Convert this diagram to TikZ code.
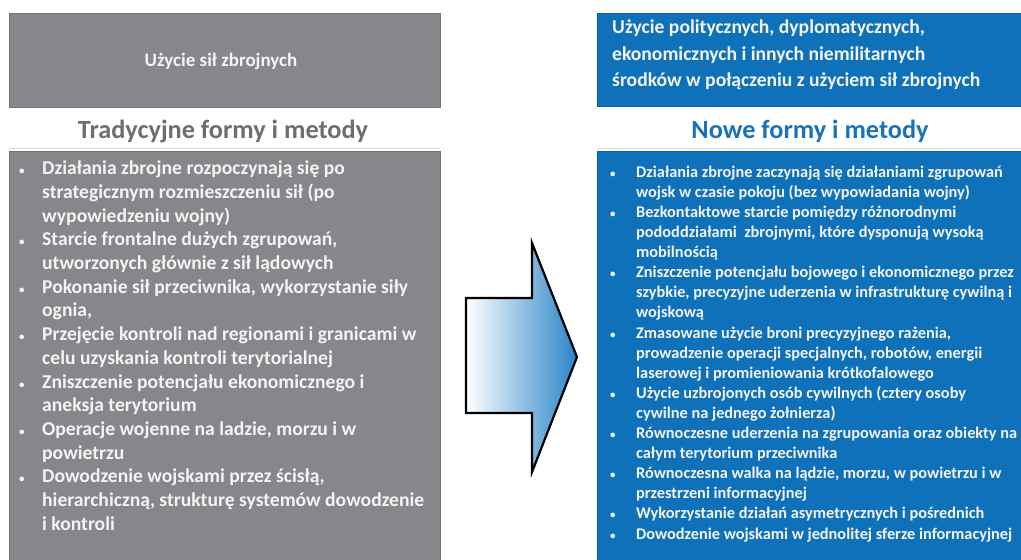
\documentclass[tikz,border=0pt]{standalone}
\usepackage{fontspec}
\setmainfont{Carlito}
\definecolor{boxgray}{HTML}{85878A}
\definecolor{boxblue}{HTML}{1071BB}
\definecolor{titlegray}{HTML}{6D6E71}
\definecolor{titleblue}{HTML}{1A72B9}
\definecolor{arrowblue}{HTML}{2A84C8}
\definecolor{txt}{HTML}{F4F4F4}
\newcommand\smallbul{{\fontsize{11}{11}\selectfont •}}
\newcommand\lbul{\makebox[23pt][l]{\smallbul}}
\newcommand\lind{\hspace*{23pt}}
\newcommand\rbul{\makebox[26pt][l]{\smallbul}}
\newcommand\rind{\hspace*{26pt}}
\tikzset{
  panel/.style={anchor=north west, inner sep=0pt, draw=#1!85!black, line width=0.6pt, fill=#1},
  listtext/.style={anchor=north west, inner sep=0pt, align=left, text=txt, font=\bfseries},
  title/.style={anchor=base, inner sep=0pt, font=\bfseries\fontsize{26.3}{30}\selectfont},
  sepline/.style={draw=black!15, line width=0.8pt}
}
\begin{document}
\begin{tikzpicture}[x=1pt,y=-1pt]
\useasboundingbox (0,0) rectangle (1021,560);
\fill[white] (0,0) rectangle (1021,560);

% top boxes
\node[panel=boxgray, minimum width=431pt, minimum height=94pt] (lt) at (9,13) {};
\node[anchor=base, inner sep=0pt, text=txt, font=\bfseries\fontsize{19}{23}\selectfont] (ltt) at (221,66.5) {Użycie sił zbrojnych};

\node[panel=boxblue, minimum width=426pt, minimum height=93pt] (rt) at (597,13) {};
\node[listtext, font=\bfseries\fontsize{19.6}{26.5}\selectfont] (rtt) at (612,15) {\strut Użycie politycznych, dyplomatycznych,\\
ekonomicznych i innych niemilitarnych\\
środków w połączeniu z użyciem sił zbrojnych};

% titles
\node[title, text=titlegray] (lti) at (223,138.5) {Tradycyjne formy i metody};
\node[title, text=titleblue] (rti) at (810,138) {Nowe formy i metody};
\draw[sepline] (9,148.5) -- (440,148.5);
\draw[sepline] (597,148.5) -- (1021,148.5);

% bottom boxes
\node[panel=boxgray, minimum width=431pt, minimum height=415pt] (lb) at (9,151) {};
\node[panel=boxblue, minimum width=426pt, minimum height=415pt] (rb) at (597,151) {};

\node[listtext, font=\bfseries\fontsize{19.6}{23.7}\selectfont] (llist) at (19,158) {%
\strut\lbul Działania zbrojne rozpoczynają się po\\
\lind strategicznym rozmieszczeniu sił (po\\
\lind wypowiedzeniu wojny)\\
\lbul Starcie frontalne dużych zgrupowań,\\
\lind utworzonych głównie z sił lądowych\\
\lbul Pokonanie sił przeciwnika, wykorzystanie siły\\
\lind ognia,\\
\lbul Przejęcie kontroli nad regionami i granicami w\\
\lind celu uzyskania kontroli terytorialnej\\
\lbul Zniszczenie potencjału ekonomicznego i\\
\lind aneksja terytorium\\
\lbul Operacje wojenne na ladzie, morzu i w\\
\lind powietrzu\\
\lbul Dowodzenie wojskami przez ścisłą,\\
\lind hierarchiczną, strukturę systemów dowodzenie\\
\lind i kontroli};

\node[listtext, font=\bfseries\fontsize{16.3}{20.1}\selectfont] (rlist) at (610,163) {%
\strut\rbul Działania zbrojne zaczynają się działaniami zgrupowań\\
\rind wojsk w czasie pokoju (bez wypowiadania wojny)\\
\rbul Bezkontaktowe starcie pomiędzy różnorodnymi\\
\rind pododdziałami\ \ zbrojnymi, które dysponują wysoką\\
\rind mobilnością\\
\rbul Zniszczenie potencjału bojowego i ekonomicznego przez\\
\rind szybkie, precyzyjne uderzenia w infrastrukturę cywilną i\\
\rind wojskową\\
\rbul Zmasowane użycie broni precyzyjnego rażenia,\\
\rind prowadzenie operacji specjalnych, robotów, energii\\
\rind laserowej i promieniowania krótkofalowego\\
\rbul Użycie uzbrojonych osób cywilnych (cztery osoby\\
\rind cywilne na jednego żołnierza)\\
\rbul Równoczesne uderzenia na zgrupowania oraz obiekty na\\
\rind całym terytorium przeciwnika\\
\rbul Równoczesna walka na lądzie, morzu, w powietrzu i w\\
\rind przestrzeni informacyjnej\\
\rbul Wykorzystanie działań asymetrycznych i pośrednich\\
\rbul Dowodzenie wojskami w jednolitej sferze informacyjnej};

% arrow
\draw[line width=2.2pt, line join=miter, left color=white, right color=arrowblue]
  (466,298) -- (532,298) -- (532,243) -- (577,357) -- (532,472) -- (532,413) -- (466,413) -- cycle;
\end{tikzpicture}
\end{document}
